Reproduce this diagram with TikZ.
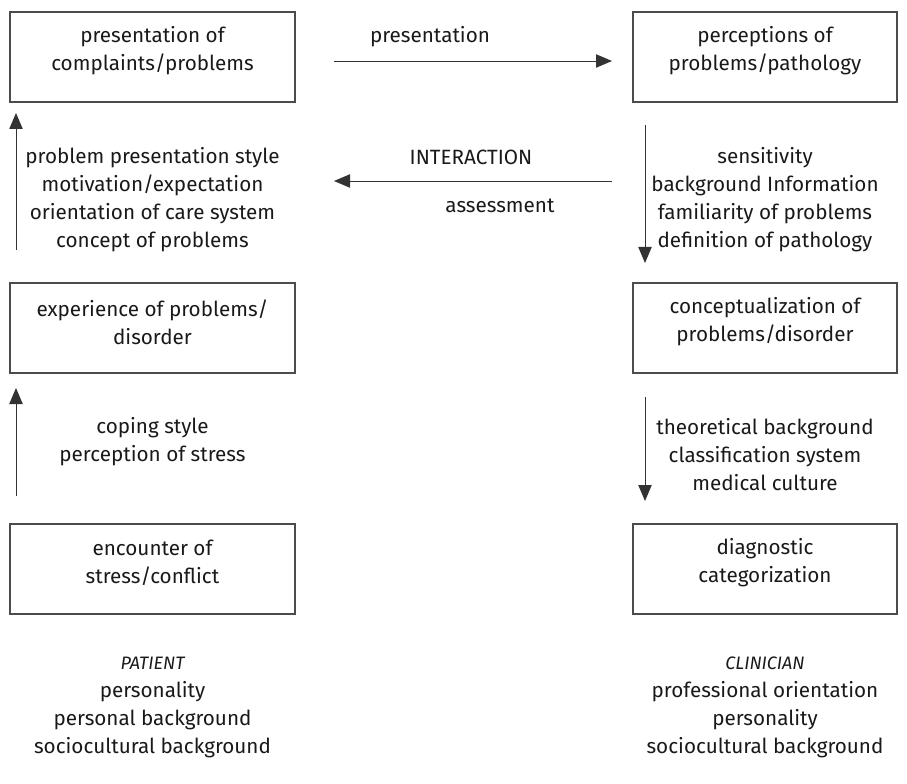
\documentclass[tikz,border=0pt]{standalone}
\usepackage{fontspec}
\setmainfont{Fira Sans}
\usetikzlibrary{arrows.meta}
\begin{document}
\begin{tikzpicture}[x=0.75pt,y=-0.75pt,
  boxl/.style={draw=black!70,line width=0.8pt,minimum width=213.75pt,minimum height=67.5pt,inner sep=0pt},
  boxr/.style={boxl,minimum width=198pt},
  txt/.style={align=center,font=\fontsize{15.5}{21}\selectfont,inner sep=0pt,text=black!90},
  arr/.style={draw=black!80,line width=0.7pt,-{Triangle[length=12pt,width=10pt]}}]
\useasboundingbox (0,0) rectangle (907,784);
% boxes
\node[boxl] (tl) at (152.5,57) {};
\node[boxr] (tr) at (765,57) {};
\node[boxl] (ml) at (152.5,328) {};
\node[boxr] (mr) at (765,328) {};
\node[boxl] (bl) at (152.5,569) {};
\node[boxr] (br) at (765,569) {};
% box texts
\node[txt] (tlt) at (152.5,51) {presentation of\\complaints/problems};
\node[txt] (trt) at (765,51) {perceptions of\\problems/pathology};
\node[txt] (mlt) at (152.5,322) {experience of problems/\\disorder};
\node[txt] (mrt) at (765,322) {conceptualization of\\problems/disorder};
\node[txt] (blt) at (152.5,563) {encounter of\\stress/conflict};
\node[txt] (brt) at (765,563) {diagnostic\\categorization};
% coordinates
\coordinate (h1a) at (334,61); \coordinate (h1b) at (612,61);
\coordinate (h2a) at (612,181); \coordinate (h2b) at (334,181);
\coordinate (v1a) at (16,250); \coordinate (v1b) at (16,113);
\coordinate (v2a) at (645,125); \coordinate (v2b) at (645,263);
\coordinate (v3a) at (16,496); \coordinate (v3b) at (16,388);
\coordinate (v4a) at (645,397); \coordinate (v4b) at (645,501);
\draw[arr] (h1a) -- (h1b);
\draw[arr] (h2a) -- (h2b);
\draw[arr] (v1a) -- (v1b);
\draw[arr] (v2a) -- (v2b);
\draw[arr] (v3a) -- (v3b);
\draw[arr] (v4a) -- (v4b);
% labels
\node[txt] (lp) at (430,37) {presentation};
\node[txt] (li) at (471,157) {INTERACTION};
\node[txt] (la) at (500,206) {assessment};
\node[txt] (l1) at (152.5,199.5) {problem presentation style\\motivation/expectation\\orientation of care system\\concept of problems};
\node[txt] (l2) at (765,199.5) {sensitivity\\background Information\\familiarity of problems\\definition of pathology};
\node[txt] (l3) at (152.5,442) {coping style\\perception of stress};
\node[txt] (l4) at (765,455) {theoretical background\\classification system\\medical culture};
\node[txt] (pat) at (152.5,707) {{\fontsize{13.5}{21}\selectfont\itshape PATIENT}\\personality\\personal background\\sociocultural background};
\node[txt] (cli) at (765,707) {{\fontsize{13.5}{21}\selectfont\itshape CLINICIAN}\\professional orientation\\personality\\sociocultural background};
\end{tikzpicture}
\end{document}
